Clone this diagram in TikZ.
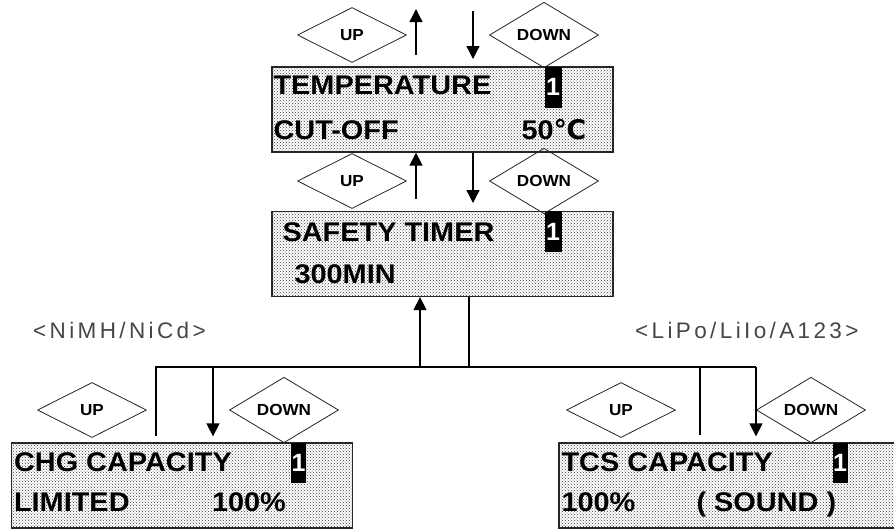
\documentclass[tikz,border=0pt]{standalone}
\usepackage{fontspec}
\setmainfont{Liberation Sans}
\newfontfamily\lcdfont[FakeStretch=1.07]{Liberation Sans}
\newfontfamily\tagfont[LetterSpace=15]{Liberation Sans}
\newfontfamily\symfont{DejaVu Sans}
\usepackage{tikz}
\usetikzlibrary{positioning,arrows.meta,shapes.geometric,patterns}
\definecolor{dotcolor}{RGB}{60,60,60}
\definecolor{tagcolor}{RGB}{70,70,70}
\tikzset{
  lcd box/.style={
    rectangle,
    draw=black!85,
    line width=1.3pt,
    pattern=crosshatch dots,
    pattern color=dotcolor,
    minimum width=341pt,
    minimum height=85pt,
    inner sep=0pt
  },
  lcd text/.style={
    anchor=base west,
    inner sep=0pt,
    font=\lcdfont\bfseries\fontsize{27}{27}\selectfont
  },
  cursor/.style={
    rectangle,
    fill=black,
    text=white,
    anchor=north west,
    minimum width=17pt,
    minimum height=41pt,
    inner sep=0pt,
    font=\bfseries\fontsize{25}{25}\selectfont
  },
  key/.style={
    diamond,
    draw=black!85,
    line width=0.8pt,
    minimum width=109pt,
    minimum height=55pt,
    inner sep=0pt,
    font=\lcdfont\bfseries\fontsize{16}{16}\selectfont
  },
  tag/.style={
    anchor=base west,
    inner sep=0pt,
    text=tagcolor,
    font=\tagfont\fontsize{22.5}{22.5}\selectfont
  },
  wire/.style={line width=1.3pt},
  arr/.style={wire, -{Triangle[length=13pt,width=13pt]}}
}

\begin{document}
\begin{tikzpicture}[x=1pt,y=-1pt]
  \useasboundingbox (0,0) rectangle (894,528);

  % Screens
  \node[lcd box] (temp) at (442.5,109.5) {};
  \node[lcd box] (safety) at (442.5,254) {};
  \node[lcd box] (chg) at (182,485.5) {};
  \node[lcd box] (tcs) at (729.5,485.5) {};

  % Screen texts
  \node[lcd text] (tempA) at ([shift={(2pt,-28pt)}]temp.north west) {TEMPERATURE};
  \node[lcd text] (tempB) at ([shift={(2pt,-73pt)}]temp.north west) {CUT-OFF};
  \node[lcd text] (tempC) at ([shift={(250pt,-73pt)}]temp.north west) {50{\symfont ℃}};
  \node[cursor] (tempMark) at ([xshift=273pt]temp.north west) {1};

  \node[lcd text] (safetyA) at ([shift={(11pt,-31pt)}]safety.north west) {SAFETY TIMER};
  \node[lcd text] (safetyB) at ([shift={(23pt,-73pt)}]safety.north west) {300MIN};
  \node[cursor] (safetyMark) at ([xshift=273pt]safety.north west) {1};

  \node[lcd text] (chgA) at ([shift={(3pt,-29pt)}]chg.north west) {CHG CAPACITY};
  \node[lcd text] (chgB) at ([shift={(3pt,-69pt)}]chg.north west) {LIMITED};
  \node[lcd text] (chgC) at ([shift={(201pt,-69pt)}]chg.north west) {100\%};
  \node[cursor, minimum width=15pt, minimum height=40pt] (chgMark) at ([xshift=280pt]chg.north west) {1};

  \node[lcd text] (tcsA) at ([shift={(3pt,-29pt)}]tcs.north west) {TCS CAPACITY};
  \node[lcd text] (tcsB) at ([shift={(3pt,-69pt)}]tcs.north west) {100\%};
  \node[lcd text] (tcsC) at ([shift={(138pt,-69pt)}]tcs.north west) {( SOUND )};
  \node[cursor, minimum width=15pt, minimum height=40pt] (tcsMark) at ([xshift=274pt]tcs.north west) {1};

  % Keys
  \node[key] (upA) at (352,35) {UP};
  \node[key] (downA) at (544,35) {DOWN};
  \node[key] (upB) at (352,181) {UP};
  \node[key] (downB) at (544,181) {DOWN};
  \node[key] (upC) at (92,410) {UP};
  \node[key] (downC) at (284,410) {DOWN};
  \node[key] (upD) at (621,410) {UP};
  \node[key] (downD) at (811,410) {DOWN};

  % Battery types
  \node[tag] (nimh) at (33,338) {<NiMH/NiCd>};
  \node[tag] (lipo) at (635,338) {<LiPo/LiIo/A123>};

  % Arrows above the screens
  \coordinate (upTop) at (416,9);
  \coordinate (upFoot) at (416,55);
  \coordinate (downTop) at (473,11);
  \coordinate (downTip) at (473,59);
  \draw[arr] (upFoot) -- (upTop);
  \draw[arr] (downTop) -- (downTip);

  \coordinate (upFootB) at (416,199);
  \coordinate (downTipB) at (473,203);
  \draw[arr] (upFootB) -- (upFootB |- temp.south);
  \draw[arr] (downTipB |- temp.south) -- (downTipB);

  % Branch to the two capacity screens
  \coordinate (busL) at (156,367);
  \coordinate (busR) at (756,367);
  \coordinate (dropL) at (213,367);
  \coordinate (tapR) at (700,367);
  \coordinate (riseC) at (420,367);
  \coordinate (fallC) at (469,367);
  \draw[wire, shorten <=6pt] (busL |- chg.north) -- (busL) -- (busR);
  \draw[arr, shorten >=6pt] (busR) -- (busR |- tcs.north);
  \draw[arr, shorten >=6pt] (dropL) -- (dropL |- chg.north);
  \draw[wire, shorten >=7pt] (tapR) -- (tapR |- tcs.north);
  \draw[arr] (riseC) -- (riseC |- safety.south);
  \draw[wire] (fallC |- safety.south) -- (fallC);
\end{tikzpicture}
\end{document}
